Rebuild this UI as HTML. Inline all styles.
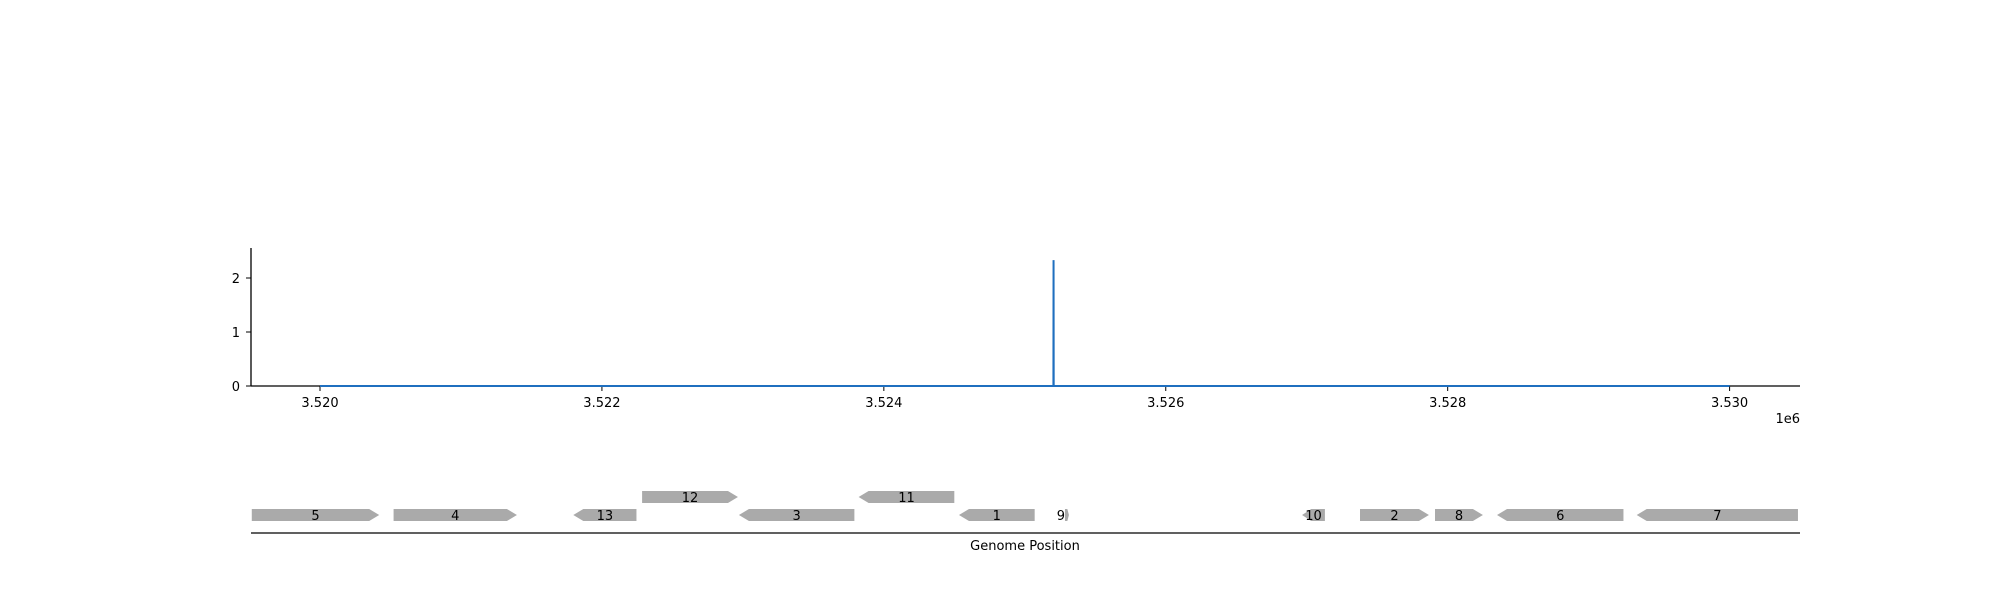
<!DOCTYPE html>
<html><head><meta charset="utf-8"><style>
body{margin:0;background:#fff}
svg text{font-family:"DejaVu Sans","Liberation Sans",sans-serif;font-size:13px;fill:#000}
</style></head><body>
<svg id="chart" width="2000" height="600" xmlns="http://www.w3.org/2000/svg">
<g id="topg"></g>
<g id="genes"></g>
</svg>
<script>
const xTicks=[3520000,3522000,3524000,3526000,3528000,3530000];
const xTickLabels=["3.520","3.522","3.524","3.526","3.528","3.530"];
const yTicks=[0,1,2];
const covPositions=[3520000,3525203,3525204,3525205,3530000];
const covValues=[0,0,2.33,0,0];
const geneNames=["5","4","13","12","3","11","1","9","10","2","8","6","7"];
const geneStarts=[3519516,3520522,3521797,3522285,3522972,3523821,3524533,3525285,3526967,3527378,3527910,3528350,3529341];
const geneEnds=[3520420,3521397,3522245,3522965,3523791,3524500,3525070,3525313,3527129,3527867,3528250,3529247,3530485];
const geneStrands=[1,1,-1,1,-1,-1,-1,1,-1,1,1,-1,-1];
const geneRows=[0,0,0,1,0,1,0,0,0,0,0,0,0];

const NS="http://www.w3.org/2000/svg";
const X=v=>320+(v-3520000)*0.14096;
const Y=v=>386-v*54;
function mk(p,t,a){const e=document.createElementNS(NS,t);for(const k in a)e.setAttribute(k,a[k]);p.appendChild(e);return e;}
const topG=document.getElementById('topg'), gt=document.getElementById('genes');
let ax=mk(topG,'line',{x1:251,y1:248,x2:251,y2:386,stroke:'#000','stroke-width':1.3});


let bx=mk(topG,'line',{x1:251,y1:386,x2:1800,y2:386,stroke:'#000','stroke-width':1.3});


yTicks.forEach(v=>{
 let l=mk(topG,'line',{x1:246,x2:251,y1:Y(v),y2:Y(v),stroke:'#000'});
 
 
 let t=mk(topG,'text',{x:240,y:Y(v)+5,'text-anchor':'end'});t.textContent=v;
 
 
});
xTicks.forEach((v,i)=>{
 let l=mk(topG,'line',{x1:X(v),x2:X(v),y1:386,y2:391,stroke:'#000'});
 
 
 let t=mk(topG,'text',{x:X(v),y:407,'text-anchor':'middle'});t.textContent=xTickLabels[i];
 
 
});
let off=mk(topG,'text',{x:1800,y:423,'text-anchor':'end'});off.textContent='1e6';


let d=covPositions.map((p,i)=>(i?'L':'M')+X(p)+','+Y(covValues[i])).join(' ');
let ln=mk(topG,'path',{d:d,fill:'none',stroke:'#1f6fbf','stroke-width':2});



let gl=mk(gt,'line',{x1:251,y1:533,x2:1800,y2:533,stroke:'#000','stroke-width':1.3});


let gtl=mk(gt,'text',{x:1025,y:550,'text-anchor':'middle'});gtl.textContent='Genome Position';


geneNames.forEach((n,i)=>{
 const x1=X(geneStarts[i]),x2=X(geneEnds[i]);
 const y0=geneRows[i]?491:509,h=12,ym=y0+h/2;
 const hl=Math.min(10,(x2-x1)*0.4);
 let pts;
 if(geneStrands[i]>0) pts=[[x1,y0],[x2-hl,y0],[x2,ym],[x2-hl,y0+h],[x1,y0+h]];
 else pts=[[x1,ym],[x1+hl,y0],[x2,y0],[x2,y0+h],[x1+hl,y0+h]];
 let p=mk(gt,'polygon',{points:pts.map(q=>q.join(',')).join(' '),fill:'#aaaaaa'});
 
 
 let t=mk(gt,'text',{x:(x1+x2)/2-(n==='9'?6:0),y:ym+5,'text-anchor':'middle'});t.textContent=n;
 
 
});
</script>
</body></html>
